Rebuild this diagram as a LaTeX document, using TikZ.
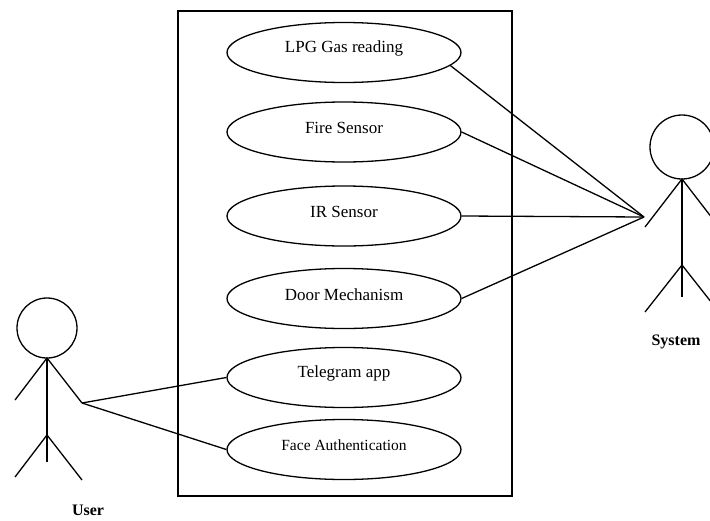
\documentclass[tikz,border=0pt]{standalone}
\usepackage{fontspec}
\setmainfont{Liberation Serif}
\usetikzlibrary{shapes.geometric}
\newcommand{\uctext}[1]{\raisebox{4pt}[\height][\depth]{#1}}
\begin{document}
\begin{tikzpicture}[x=1pt,y=-1pt,line width=1.3pt,
  usecase/.style={draw,ellipse,minimum width=234pt,minimum height=60pt,inner sep=0pt,font=\fontsize{17}{20}\selectfont},
  actorlbl/.style={font=\bfseries\fontsize{16}{19}\selectfont}]
\useasboundingbox (0,0) rectangle (710,520);
% system boundary
\node[draw,minimum width=334pt,minimum height=485pt,inner sep=0pt] (sys) at (345,253.5) {};
% use cases
\node[usecase] (lpg) at (344,52.5) {\uctext{LPG Gas reading}};
\node[usecase] (fire) at (344,132) {\uctext{Fire Sensor}};
\node[usecase] (ir) at (344,216) {\uctext{IR Sensor}};
\node[usecase] (door) at (344,298.5) {\uctext{Door Mechanism}};
\node[usecase] (tel) at (344,377.5) {\uctext{Telegram app}};
\node[usecase,font=\fontsize{15.5}{18}\selectfont] (face) at (344,449.5) {\uctext{Face Authentication}};
% System actor
\node[draw,circle,minimum size=64pt,inner sep=0pt] (shead) at (682,147) {};
\coordinate (sneck) at (682,179);
\coordinate (ship) at (682,265);
\coordinate (sfoot) at (682,297);
\coordinate (sla) at (645,227);
\coordinate (sra) at (719,227);
\coordinate (sll) at (645,312);
\coordinate (srl) at (719,312);
\coordinate (shand) at (644,217);
\draw (shead.south) -- (sfoot);
\draw (sla) -- (sneck) -- (sra);
\draw (sll) -- (ship) -- (srl);
\node[actorlbl] (slabel) at (676,342) {System};
% User actor
\node[draw,circle,minimum size=60pt,inner sep=0pt] (uhead) at (47,328) {};
\coordinate (uneck) at (47,358);
\coordinate (uhip) at (47,435);
\coordinate (ufoot) at (47,462);
\coordinate (ula) at (15,400);
\coordinate (ura) at (82,403);
\coordinate (ull) at (15,477);
\coordinate (url) at (82,480);
\draw (uhead.south) -- (ufoot);
\draw (ula) -- (uneck) -- (ura);
\draw (ull) -- (uhip) -- (url);
\node[actorlbl] (ulabel) at (88,510) {User};
% associations
\draw (lpg.-7) -- (shand);
\draw (fire.east) -- (shand);
\draw (ir.east) -- (shand);
\draw (door.east) -- (shand);
\draw (ura) -- (tel.west);
\draw (ura) -- (face.west);
\end{tikzpicture}
\end{document}
